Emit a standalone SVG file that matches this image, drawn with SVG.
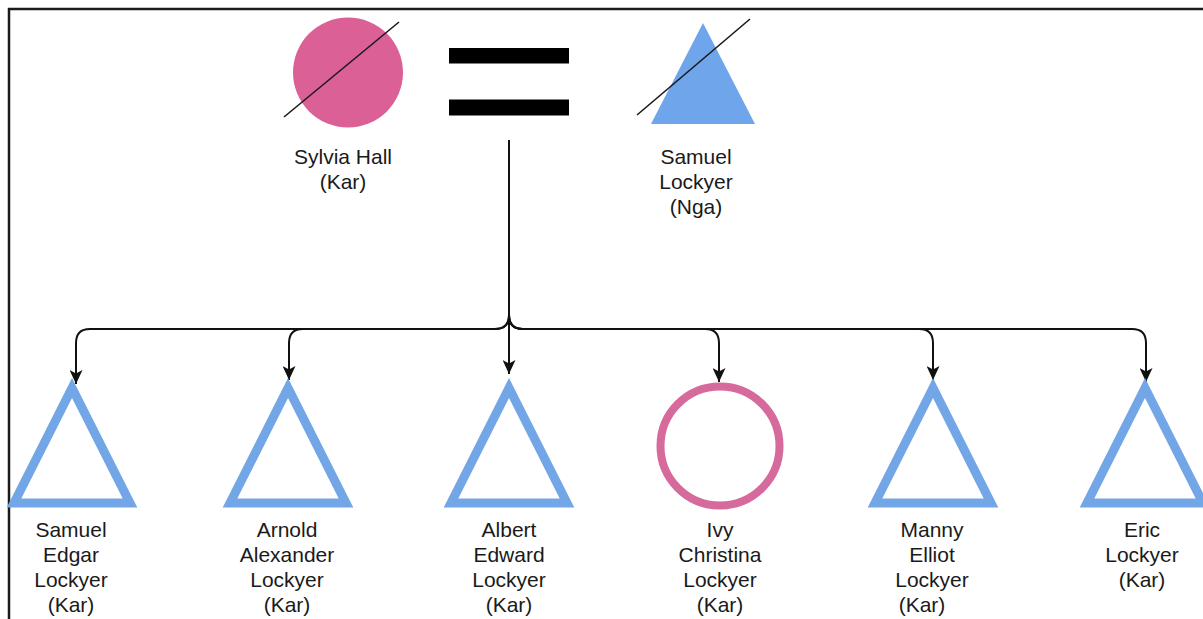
<svg xmlns="http://www.w3.org/2000/svg" width="1203" height="619" viewBox="0 0 1203 619">
  <style>
    .label { font-family: "Liberation Sans", Arial, sans-serif; font-size: 21px; fill: #1a1a1a; text-anchor: middle; }
    .male { fill: none; stroke: #72a6e6; stroke-width: 9; stroke-linejoin: miter; }
    .female { fill: none; stroke: #d66a9c; stroke-width: 8; }
    .edge { fill: none; stroke: #111; stroke-width: 2; marker-end: url(#arrow); }
    .strike { stroke: #1a1a1a; stroke-width: 1.6; }
  </style>
  <defs>
    <marker id="arrow" markerUnits="userSpaceOnUse" viewBox="0 0 14 13" refX="14" refY="6.5" markerWidth="14" markerHeight="13" orient="auto">
      <path d="M0,0 L14,6.5 L0,13 L3.5,6.5 Z" fill="#111"/>
    </marker>
  </defs>

  <rect width="1203" height="619" fill="#ffffff"/>
  <!-- outer frame -->
  <rect x="9" y="9" width="1300" height="700" fill="none" stroke="#1a1a1a" stroke-width="2.5"/>

  <!-- parents -->
  <g id="sylvia-hall">
    <circle cx="348" cy="72.5" r="55" fill="#da6096"/>
    <line class="strike" x1="284" y1="117" x2="399" y2="22"/>
    <text class="label" x="343" y="164">Sylvia Hall</text>
    <text class="label" x="343" y="189">(Kar)</text>
  </g>

  <g id="marriage">
    <rect x="449" y="48" width="120" height="15.5" fill="#000"/>
    <rect x="449" y="99.5" width="120" height="16" fill="#000"/>
  </g>

  <g id="samuel-lockyer">
    <polygon points="703,23 651,124 755,124" fill="#6fa5ea"/>
    <line class="strike" x1="637" y1="115" x2="750" y2="19"/>
    <text class="label" x="696" y="164">Samuel</text>
    <text class="label" x="696" y="189">Lockyer</text>
    <text class="label" x="696" y="214">(Nga)</text>
  </g>

  <!-- descent lines -->
  <g id="connectors">
    <path class="edge" d="M509,140 V315 Q509,329 495,329 H90 Q76,329 76,343 V384"/>
    <path class="edge" d="M509,140 V315 Q509,329 495,329 H303 Q289,329 289,343 V380"/>
    <path class="edge" d="M509,140 V374"/>
    <path class="edge" d="M509,140 V315 Q509,329 523,329 H705 Q719,329 719,343 V382"/>
    <path class="edge" d="M509,140 V315 Q509,329 523,329 H919 Q933,329 933,343 V380"/>
    <path class="edge" d="M509,140 V315 Q509,329 523,329 H1132 Q1146,329 1146,343 V382"/>
  </g>

  <!-- children -->
  <g id="samuel-edgar-lockyer">
    <polygon class="male" points="72,388 14,503 130,503"/>
    <text class="label" x="71" y="537">Samuel</text>
    <text class="label" x="71" y="562">Edgar</text>
    <text class="label" x="71" y="587">Lockyer</text>
    <text class="label" x="71" y="612">(Kar)</text>
  </g>

  <g id="arnold-alexander-lockyer">
    <polygon class="male" points="288,388 230,503 346,503"/>
    <text class="label" x="287" y="537">Arnold</text>
    <text class="label" x="287" y="562">Alexander</text>
    <text class="label" x="287" y="587">Lockyer</text>
    <text class="label" x="287" y="612">(Kar)</text>
  </g>

  <g id="albert-edward-lockyer">
    <polygon class="male" points="509,388 451,503 567,503"/>
    <text class="label" x="509" y="537">Albert</text>
    <text class="label" x="509" y="562">Edward</text>
    <text class="label" x="509" y="587">Lockyer</text>
    <text class="label" x="509" y="612">(Kar)</text>
  </g>

  <g id="ivy-christina-lockyer">
    <circle class="female" cx="720" cy="446" r="59.5"/>
    <text class="label" x="720" y="537">Ivy</text>
    <text class="label" x="720" y="562">Christina</text>
    <text class="label" x="720" y="587">Lockyer</text>
    <text class="label" x="720" y="612">(Kar)</text>
  </g>

  <g id="manny-elliot-lockyer">
    <polygon class="male" points="933,388 875,503 991,503"/>
    <text class="label" x="932" y="537">Manny</text>
    <text class="label" x="932" y="562">Elliot</text>
    <text class="label" x="932" y="587">Lockyer</text>
    <text class="label" x="922" y="612">(Kar)</text>
  </g>

  <g id="eric-lockyer">
    <polygon class="male" points="1145,388 1087,503 1203,503"/>
    <text class="label" x="1142" y="537">Eric</text>
    <text class="label" x="1142" y="562">Lockyer</text>
    <text class="label" x="1142" y="587">(Kar)</text>
  </g>
</svg>
